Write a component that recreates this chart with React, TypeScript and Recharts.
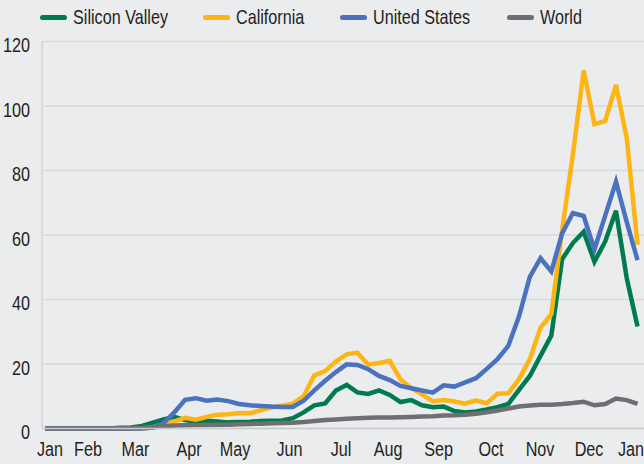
import { LineChart, Line, XAxis, YAxis, CartesianGrid } from "recharts";

// weekly readings, first week of Jan through mid Jan of the next year
const siliconValley = [
  0, 0, 0, 0, 0, 0, 0, 0.2, 0.3, 0.8, 1.8, 2.8, 3.6, 2.6, 2.1, 2.4, 2.2, 1.9, 2.0, 2.1,
  2.3, 2.4, 2.5, 3.2, 5.0, 7.2, 7.8, 11.8, 13.5, 11.2, 10.7, 11.8, 10.4, 8.2, 8.8, 7.2, 6.6, 6.8, 5.4, 5.0,
  5.3, 5.9, 6.6, 7.6, 12.0, 16.3, 22.6, 28.8, 52.5, 57.5, 61, 51.7, 58, 67.5, 46.6, 31.6,
];
const california = [
  0, 0, 0, 0, 0, 0, 0, 0, 0, 0, 0.3, 1.2, 2.2, 3.3, 2.7, 3.6, 4.3, 4.4, 4.8, 4.7,
  5.6, 6.5, 7.1, 7.7, 10.0, 16.5, 17.8, 20.8, 23.0, 23.5, 19.8, 20.3, 21.0, 15.2, 12.5, 10.6, 8.4, 8.8, 8.4, 7.7,
  8.7, 7.8, 10.8, 10.9, 15.3, 21.5, 31.3, 35.5, 61.5, 85, 111, 94.4, 95.4, 106.5, 90, 57,
];
const unitedStates = [
  0, 0, 0, 0, 0, 0, 0, 0, 0, 0, 0.3, 1.7, 5.0, 8.9, 9.4, 8.6, 9.0, 8.5, 7.6, 7.2,
  7.0, 6.8, 6.7, 6.7, 8.6, 11.8, 14.8, 17.5, 19.9, 19.7, 18.4, 16.3, 15.0, 13.2, 12.5, 11.8, 11.1, 13.4, 13.0, 14.3,
  15.6, 18.5, 21.5, 25.6, 34.8, 47, 52.8, 48.7, 60.5, 66.8, 65.9, 55.5, 66, 76.5, 64, 52.2,
];
const world = [
  0, 0, 0, 0, 0, 0, 0, 0, 0.1, 0.2, 0.4, 0.7, 0.9, 1.0, 1.1, 1.1, 1.2, 1.2, 1.3, 1.4,
  1.5, 1.6, 1.7, 1.8, 2.0, 2.3, 2.6, 2.8, 3.0, 3.2, 3.3, 3.4, 3.4, 3.5, 3.6, 3.7, 3.8, 4.0, 4.1, 4.3,
  4.6, 5.0, 5.6, 6.2, 6.8, 7.1, 7.4, 7.4, 7.6, 7.9, 8.3, 7.2, 7.6, 9.3, 8.8, 7.6,
];

const monthLabels = ["Jan", "Feb", "Mar", "Apr", "May", "Jun", "Jul", "Aug", "Sep", "Oct", "Nov", "Dec", "Jan"];
// where each month label sits, in weeks
const monthTicks = [0.46, 3.99, 8.4, 13.37, 17.64, 22.7, 27.48, 31.84, 36.54, 41.4, 45.95, 50.5, 54.4];
const yTicks = [0, 20, 40, 60, 80, 100, 120];

const series = [
  { key: "siliconValley", name: "Silicon Valley", color: "#007a4f" },
  { key: "california", name: "California", color: "#fdb515" },
  { key: "unitedStates", name: "United States", color: "#4a72bf" },
  { key: "world", name: "World", color: "#6e6f73" },
];

const data = siliconValley.map((v, i) => ({
  week: i,
  siliconValley: v,
  california: california[i],
  unitedStates: unitedStates[i],
  world: world[i],
}));

// no condensed face installed, so squeeze Liberation Sans horizontally
const FONT = "'Liberation Sans', Arial, sans-serif";
const FONT_SIZE = 21;
const SQUEEZE = 0.77;
const TEXT = "#231f20";
const legendLeft = [40, 203, 340, 507];

// eslint-disable-next-line @typescript-eslint/no-explicit-any
function YTick({ x, y, payload }: any) {
  return (
    <g transform={`translate(${x},${y})`}>
      <text transform={`scale(${SQUEEZE},1)`} dy={10.5} textAnchor="end" fontFamily={FONT} fontSize={FONT_SIZE} fill={TEXT}>
        {payload.value}
      </text>
    </g>
  );
}

// eslint-disable-next-line @typescript-eslint/no-explicit-any
function XTick({ x, y, index }: any) {
  return (
    <g transform={`translate(${x},${y})`}>
      <text transform={`scale(${SQUEEZE},1)`} dy={28} textAnchor="middle" fontFamily={FONT} fontSize={FONT_SIZE} fill={TEXT}>
        {monthLabels[index]}
      </text>
    </g>
  );
}

export default function App() {
  return (
    <div style={pageStyle}>
      {series.map((s, i) => (
        <div key={s.key} style={{ ...legendItemStyle, left: legendLeft[i] }}>
          <span style={{ ...swatchStyle, background: s.color }} />
          <span style={legendTextStyle}>{s.name}</span>
        </div>
      ))}
      <LineChart
        width={644}
        height={464}
        data={data}
        margin={{ top: 41.5, right: 0, bottom: 0, left: 0 }}
      >
        <CartesianGrid horizontal vertical={false} stroke="#d8d9db" strokeWidth={1.5} />
        <XAxis
          dataKey="week"
          type="number"
          domain={[-0.28, 55.6]}
          ticks={monthTicks}
          interval={0}
          height={35.5}
          tickSize={0}
          tickMargin={0}
          axisLine={{ stroke: "#c9cacc", strokeWidth: 1.5 }}
          tickLine={false}
          tick={<XTick />}
        />
        <YAxis
          domain={[0, 120]}
          ticks={yTicks}
          width={42}
          tickSize={0}
          tickMargin={12}
          axisLine={{ stroke: "#d3d4d6", strokeWidth: 1.5 }}
          tickLine={false}
          tick={<YTick />}
        />
        {series.map((s) => (
          <Line
            key={s.key}
            type="linear"
            dataKey={s.key}
            name={s.name}
            stroke={s.color}
            strokeWidth={4.5}
            dot={false}
            activeDot={false}
            isAnimationActive={false}
          />
        ))}
      </LineChart>
    </div>
  );
}

const pageStyle: React.CSSProperties = {
  position: "absolute",
  left: 0,
  top: 0,
  width: 644,
  height: 464,
  background: "#ebecee",
  overflow: "hidden",
};

const legendItemStyle: React.CSSProperties = {
  position: "absolute",
  top: 4,
  height: 26,
  display: "flex",
  alignItems: "center",
  fontFamily: FONT,
  fontSize: FONT_SIZE,
  color: TEXT,
  whiteSpace: "nowrap",
  zIndex: 1,
};

const swatchStyle: React.CSSProperties = {
  display: "inline-block",
  width: 27,
  height: 5,
  borderRadius: 3,
  marginRight: 6,
};

const legendTextStyle: React.CSSProperties = {
  display: "inline-block",
  transform: `scaleX(${SQUEEZE})`,
  transformOrigin: "left center",
  lineHeight: "26px",
};
